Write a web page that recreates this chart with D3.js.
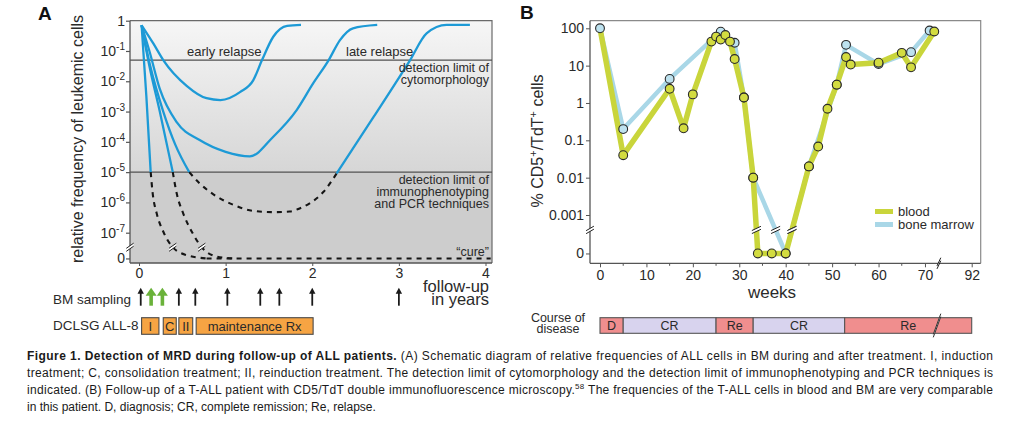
<!DOCTYPE html>
<html><head><meta charset="utf-8">
<script src="https://cdn.jsdelivr.net/npm/d3@7"></script>
<style>body{margin:0;background:#fff} svg{font-family:"Liberation Sans",Arial,Helvetica,sans-serif}</style>
</head><body>
<svg id="c" width="1023" height="422"></svg>
<script>
// ================= DATA =================
// Panel A (x: years of follow-up, y: log10 of relative frequency)
const aXTicks = [0, 1, 2, 3, 4];
const aYTicks = [0, -1, -2, -3, -4, -5, -6, -7];
const aZero = -7.85;            // "0" level below the axis break
const aBreak = -7.48;           // axis break level
const cytoLimit = -1.3;         // detection limit of cytomorphology
const pcrLimit = -5;            // detection limit of immunophenotyping/PCR
const solidCurves = [
  [[0.03,-0.15],[0.085,-2.5],[0.135,-5]],
  [[0.03,-0.15],[0.12,-1.5],[0.24,-3.0],[0.39,-5]],
  [[0.03,-0.15],[0.13,-1.5],[0.28,-3.0],[0.42,-4.1],[0.58,-5]],
  [[0.03,-0.15],[0.165,-0.75],[0.28,-1.3],[0.55,-2.15],[0.78,-2.56],[0.94,-2.62],[1.17,-2.35],[1.32,-1.96],[1.42,-1.3],[1.55,-0.53],[1.71,-0.17],[1.87,-0.14]],
  [[0.03,-0.15],[0.12,-1.0],[0.24,-2.25],[0.435,-3.35],[0.70,-3.94],[1.0,-4.33],[1.28,-4.48],[1.55,-3.83],[1.82,-2.95],[2.01,-2.07],[2.19,-1.3],[2.32,-0.64],[2.47,-0.25],[2.75,-0.14]],
  [[2.28,-5.05],[2.71,-3.17],[3.13,-1.3],[3.32,-0.42],[3.55,-0.14],[3.82,-0.14]]
];
const dashedCurves = [
  [[0.135,-5],[0.158,-5.7],[0.204,-6.36],[0.281,-6.97],[0.389,-7.48],[0.55,-7.74],[0.78,-7.85]],
  [[0.39,-5],[0.435,-5.7],[0.51,-6.36],[0.61,-6.97],[0.724,-7.48],[0.90,-7.79],[1.09,-7.85]],
  [[0.58,-5],[0.70,-5.37],[0.90,-5.81],[1.09,-6.08],[1.32,-6.28],[1.55,-6.32],[1.74,-6.30],[1.86,-6.19],[1.97,-6.03],[2.13,-5.65],[2.28,-5.05]],
  [[0.78,-7.85],[4.06,-7.85]]
];
const curveBreaks = [[0.389,-7.48],[0.724,-7.48]];
const bmSampling = [0.02, 0.46, 0.65, 1.02, 1.40, 1.62, 2.0, 3.0];
const bmSamplingGreen = [0.14, 0.27];
const treatments = [
  {name:"I", start:0.03, end:0.23},
  {name:"C", start:0.28, end:0.43},
  {name:"II", start:0.46, end:0.62},
  {name:"maintenance Rx", start:0.66, end:2.01}
];

// Panel B (x: weeks, y: % CD5+/TdT+ cells)
const bXTicks = [0, 10, 20, 30, 40, 50, 60, 70, 92];
const bXMinor = [5, 15, 25, 35, 45, 55, 65];
const bYTicks = [100, 10, 1, 0.1, 0.01, 0.001, 0];
const bYLabels = ["100", "10", "1", "0.1", "0.01", "0.001", "0"];
const bloodWeeks  = [0, 5, 15, 18, 20, 24, 25, 26, 27, 28, 29, 31, 33, 34, 37, 40, 45, 47, 49, 51, 53, 54, 60, 65, 67, 72];
const bloodValues = [100, 0.04, 2.4, 0.21, 1.7, 44, 60, 50, 66, 44, 15, 1.4, 0.01, 0, 0, 0, 0.02, 0.068, 0.7, 3.1, 17, 10.7, 12, 22, 9, 82];
const marrowWeeks  = [0, 5, 15, 26, 29, 31, 33, 40, 45, 51, 53, 60, 67, 71];
const marrowValues = [100, 0.2, 4.4, 81, 41, 1.4, 0.01, 0, 0.02, 3.1, 36, 11, 23, 87];
const course = [
  {label:"D", start:0, end:5, kind:"re"},
  {label:"CR", start:5, end:25, kind:"cr"},
  {label:"Re", start:25, end:33, kind:"re"},
  {label:"CR", start:33, end:52.7, kind:"cr"},
  {label:"Re", start:52.7, end:92, kind:"re"}
];
const weekBreak = 72.6;

// ================= DRAW =================
const svg = d3.select("#c");
const TXT = "#2a2a2a";

// ---------- Panel A ----------
const xA = d3.scaleLinear().domain([0, 4]).range([139, 485.5]);
const yA = d3.scaleLinear().domain([0, -7]).range([20.7, 232.7]);
const A = {left:130, right:492, top:20.7, bottom:263};

const defs = svg.append("defs");
const g = defs.append("linearGradient").attr("id","gA").attr("x1",0).attr("y1",0).attr("x2",0).attr("y2",1);
g.append("stop").attr("offset","0%").attr("stop-color","#f6f6f6");
g.append("stop").attr("offset","100%").attr("stop-color","#d6d6d6");

svg.append("rect").attr("x",A.left).attr("y",A.top).attr("width",A.right-A.left)
  .attr("height",yA(pcrLimit)-A.top).attr("fill","url(#gA)");
svg.append("rect").attr("x",A.left).attr("y",yA(pcrLimit)).attr("width",A.right-A.left)
  .attr("height",A.bottom-yA(pcrLimit)).attr("fill","#cdcdcd");

// frame
svg.append("path").attr("d",`M${A.left},${A.top}H${A.right}V${A.bottom}`).attr("fill","none").attr("stroke","#6a6a6a").attr("stroke-width",1.2);
[cytoLimit, pcrLimit].forEach(v=>{
  svg.append("line").attr("x1",A.left).attr("x2",A.right).attr("y1",yA(v)).attr("y2",yA(v))
    .attr("stroke","#505050").attr("stroke-width",1.3);
});

// curves
const lineA = d3.line().x(d=>xA(d[0])).y(d=>yA(d[1])).curve(d3.curveMonotoneX);
svg.append("g").selectAll("path").data(solidCurves).join("path")
  .attr("d",lineA).attr("fill","none").attr("stroke","#1d9ad6").attr("stroke-width",2.3);
svg.append("g").selectAll("path").data(dashedCurves).join("path")
  .attr("d",lineA).attr("fill","none").attr("stroke","#151515").attr("stroke-width",2.1)
  .attr("stroke-dasharray","5,5");

function breakMark(x, y, len, gap, angleDeg, color){
  const a = angleDeg*Math.PI/180, dx = Math.cos(a)*len/2, dy = -Math.sin(a)*len/2;
  const grp = svg.append("g");
  grp.append("path").attr("d",`M${x-dx},${y-dy-gap/2}L${x+dx},${y+dy-gap/2}L${x+dx},${y+dy+gap/2}L${x-dx},${y-dy+gap/2}Z`)
    .attr("fill","#fff").attr("stroke","none");
  [-gap/2, gap/2].forEach(o=>{
    grp.append("line").attr("x1",x-dx).attr("y1",y-dy+o).attr("x2",x+dx).attr("y2",y+dy+o)
      .attr("stroke",color).attr("stroke-width",1);
  });
}
curveBreaks.forEach(d=>breakMark(xA(d[0]), yA(d[1]), 9, 3, 35, "#222"));

// axes
svg.append("line").attr("x1",A.left).attr("x2",A.left).attr("y1",A.top).attr("y2",A.bottom).attr("stroke","#555").attr("stroke-width",1.3);
svg.append("line").attr("x1",A.left).attr("x2",A.right).attr("y1",A.bottom).attr("y2",A.bottom).attr("stroke","#555").attr("stroke-width",1.3);
const ayAxis = svg.append("g").attr("transform",`translate(${A.left},0)`)
  .call(d3.axisLeft(yA).tickValues([...aYTicks, aZero]).tickSize(4).tickSizeOuter(0).tickFormat(""));
ayAxis.select(".domain").remove();
ayAxis.selectAll(".tick line").attr("stroke","#555").attr("stroke-width",1.2);
breakMark(A.left, yA(aBreak), 9, 3, 35, "#222");

const yLab = svg.append("g").attr("fill",TXT).attr("font-size",14).attr("text-anchor","end");
aYTicks.forEach(e=>{
  const t = yLab.append("text").attr("x",A.left-5).attr("y",yA(e)+5);
  if (e === 0) t.text("1");
  else { t.append("tspan").text("10"); t.append("tspan").attr("font-size",10).attr("dy",-6).text("-"+(-e)); }
});
yLab.append("text").attr("x",A.left-5).attr("y",yA(aZero)+5).text("0");

const axAxis = svg.append("g").attr("transform",`translate(0,${A.bottom})`)
  .call(d3.axisBottom(xA).tickValues(aXTicks).tickSize(3).tickPadding(2).tickSizeOuter(0).tickFormat(d3.format("d")));
axAxis.select(".domain").remove();
axAxis.selectAll(".tick line").attr("stroke","#555");
axAxis.selectAll("text").attr("font-size",14).attr("fill",TXT).attr("font-family",null);

svg.append("text").attr("transform","translate(83,139) rotate(-90)").attr("text-anchor","middle")
  .attr("font-size",16).attr("fill",TXT).text("relative frequency of leukemic cells");
svg.append("text").attr("x",489).attr("y",292).attr("text-anchor","end").attr("font-size",16.5).attr("fill",TXT).text("follow-up");
svg.append("text").attr("x",489).attr("y",305).attr("text-anchor","end").attr("font-size",16.5).attr("fill",TXT).text("in years");
svg.append("text").attr("x",38).attr("y",20).attr("font-size",19).attr("font-weight","bold").attr("fill","#111").text("A");

// in-plot labels
const lab = svg.append("g").attr("font-size",13).attr("fill",TXT);
lab.append("text").attr("x",187).attr("y",56).text("early relapse");
lab.append("text").attr("x",346).attr("y",56).text("late relapse");
const rlab = svg.append("g").attr("font-size",12.5).attr("fill",TXT).attr("text-anchor","end");
[["detection limit of",72],["cytomorphology",84],["detection limit of",184],["immunophenotyping",196],["and PCR techniques",208],["\u201ccure\u201d",256]]
  .forEach(d=>rlab.append("text").attr("x",489).attr("y",d[1]).text(d[0]));

// sampling arrows
function arrow(x, green){
  const top = 287.7, bot = 305.7;
  const hw = green ? 5.5 : 3.2, hh = green ? 8 : 6;
  const col = green ? "#6ab23a" : "#1a1a1a";
  svg.append("line").attr("x1",x).attr("x2",x).attr("y1",top+hh-1).attr("y2",bot)
    .attr("stroke",col).attr("stroke-width",green?3.6:1.8);
  svg.append("path").attr("d",`M${x},${top}L${x+hw},${top+hh}L${x-hw},${top+hh}Z`).attr("fill",col);
}
bmSampling.forEach(t=>arrow(xA(t), false));
bmSamplingGreen.forEach(t=>arrow(xA(t), true));
svg.append("text").attr("x",53).attr("y",304).attr("font-size",13.5).attr("fill",TXT).text("BM sampling");
svg.append("text").attr("x",53).attr("y",330).attr("font-size",13.5).attr("fill",TXT).text("DCLSG ALL-8");

const tg = svg.append("g");
tg.selectAll("rect").data(treatments).join("rect")
  .attr("x",d=>xA(d.start)).attr("width",d=>xA(d.end)-xA(d.start)).attr("y",317.7).attr("height",16.6)
  .attr("fill","#f6a443").attr("stroke","#4a4a4a").attr("stroke-width",1.1);
tg.selectAll("text").data(treatments).join("text")
  .attr("x",d=>(xA(d.start)+xA(d.end))/2).attr("y",331).attr("text-anchor","middle")
  .attr("font-size",13).attr("fill",TXT).text(d=>d.name);

// ---------- Panel B ----------
const xB = d3.scaleLinear().domain([0, 73, 92]).range([600, 938.9, 971.7]);
const yB = d3.scaleLinear().domain([2, -3]).range([28.3, 215]);
const bZero = -4.03, bBreak = -3.4;
const ev = v => v === 0 ? bZero : Math.log10(v);
const B = {left:590, right:980.7, top:20.7, bottom:263.3};

svg.append("path").attr("d",`M${B.left},${B.top}H${B.right}V${B.bottom}`).attr("fill","none").attr("stroke","#8a8a8a").attr("stroke-width",1.2);
svg.append("line").attr("x1",B.left).attr("x2",B.left).attr("y1",B.top).attr("y2",B.bottom).attr("stroke","#555").attr("stroke-width",1.3);
svg.append("line").attr("x1",B.left).attr("x2",B.right).attr("y1",B.bottom).attr("y2",B.bottom).attr("stroke","#555").attr("stroke-width",1.3);

const byAxis = svg.append("g").attr("transform",`translate(${B.left},0)`)
  .call(d3.axisLeft(yB).tickValues(bYTicks.map(ev)).tickSize(4).tickPadding(2).tickSizeOuter(0)
    .tickFormat((d,i)=>bYLabels[i]));
byAxis.select(".domain").remove();
byAxis.selectAll(".tick line").attr("stroke","#555");
byAxis.selectAll("text").attr("font-size",14).attr("fill",TXT).attr("font-family",null);

const bxAxis = svg.append("g").attr("transform",`translate(0,${B.bottom})`)
  .call(d3.axisBottom(xB).tickValues(bXTicks).tickSize(4).tickPadding(3).tickSizeOuter(0).tickFormat(d3.format("d")));
bxAxis.select(".domain").remove();
bxAxis.selectAll(".tick line").attr("stroke","#555");
bxAxis.selectAll("text").attr("font-size",14).attr("fill",TXT).attr("font-family",null);
svg.append("g").selectAll("line").data(bXMinor).join("line")
  .attr("x1",d=>xB(d)).attr("x2",d=>xB(d)).attr("y1",B.bottom).attr("y2",B.bottom+2.5).attr("stroke","#555");

breakMark(B.left, yB(bBreak), 9, 3, 30, "#222");
breakMark(xB(73), B.bottom, 9, 3, 65, "#222");

const blood = bloodWeeks.map((w,i)=>({w, e:ev(bloodValues[i])}));
const marrow = marrowWeeks.map((w,i)=>({w, e:ev(marrowValues[i])}));
const lineB = d3.line().x(d=>xB(d.w)).y(d=>yB(d.e));

svg.append("path").attr("d",lineB(marrow)).attr("fill","none").attr("stroke","#a9d7e7").attr("stroke-width",4.5).attr("stroke-linejoin","round");
svg.append("path").attr("d",lineB(blood)).attr("fill","none").attr("stroke","#c9d53b").attr("stroke-width",5.5).attr("stroke-linejoin","round");

// break marks where a series crosses the axis break
function crossings(series){
  const out = [];
  for (let i=1;i<series.length;i++){
    const a = series[i-1], b = series[i];
    if ((a.e - bBreak)*(b.e - bBreak) < 0){
      const f = (bBreak - a.e)/(b.e - a.e);
      out.push({w: a.w + f*(b.w-a.w)});
    }
  }
  return out;
}
[...crossings(blood), ...crossings(marrow)].forEach(c=>breakMark(xB(c.w), yB(bBreak), 10, 3, 25, "#222"));

svg.append("g").selectAll("circle").data(marrow).join("circle")
  .attr("cx",d=>xB(d.w)).attr("cy",d=>yB(d.e)).attr("r",4.4)
  .attr("fill","#bde2ef").attr("stroke","#2a2a2a").attr("stroke-width",1.1);
svg.append("g").selectAll("circle").data(blood.filter(d=>d.w !== 0)).join("circle")
  .attr("cx",d=>xB(d.w)).attr("cy",d=>yB(d.e)).attr("r",4.4)
  .attr("fill","#d3dc40").attr("stroke","#2a2a2a").attr("stroke-width",1.1);

// legend
svg.append("line").attr("x1",875).attr("x2",893).attr("y1",211.5).attr("y2",211.5).attr("stroke","#c9d53b").attr("stroke-width",5);
svg.append("line").attr("x1",875).attr("x2",893).attr("y1",224.5).attr("y2",224.5).attr("stroke","#a9d7e7").attr("stroke-width",5);
svg.append("text").attr("x",898).attr("y",216).attr("font-size",13).attr("fill",TXT).text("blood");
svg.append("text").attr("x",898).attr("y",229).attr("font-size",13).attr("fill",TXT).text("bone marrow");

// axis titles
const ylB = svg.append("text").attr("transform","translate(543,141) rotate(-90)").attr("text-anchor","middle")
  .attr("font-size",16).attr("fill",TXT);
ylB.append("tspan").text("% CD5");
ylB.append("tspan").attr("font-size",11).attr("dy",-6).text("+");
ylB.append("tspan").attr("dy",6).text("/TdT");
ylB.append("tspan").attr("font-size",11).attr("dy",-6).text("+");
ylB.append("tspan").attr("dy",6).text(" cells");
svg.append("text").attr("x",772).attr("y",298).attr("text-anchor","middle").attr("font-size",17).attr("fill",TXT).text("weeks");
svg.append("text").attr("x",520).attr("y",19).attr("font-size",19).attr("font-weight","bold").attr("fill","#111").text("B");

// course of disease
const cg = svg.append("g");
cg.selectAll("rect").data(course).join("rect")
  .attr("x",d=>xB(d.start)).attr("width",d=>xB(d.end)-xB(d.start)).attr("y",317.7).attr("height",15.6)
  .attr("fill",d=>d.kind==="re"?"#f08e8e":"#d8d3ee").attr("stroke","#555").attr("stroke-width",1.1);
cg.selectAll("text").data(course).join("text")
  .attr("x",d=>(xB(d.start)+xB(d.end))/2).attr("y",330).attr("text-anchor","middle")
  .attr("font-size",12.5).attr("fill",TXT).text(d=>d.label);
breakMark(xB(weekBreak), 325.5, 22, 3, 70, "#333");
svg.append("text").attr("x",558).attr("y",322).attr("text-anchor","middle").attr("font-size",12.5).attr("fill",TXT).text("Course of");
svg.append("text").attr("x",558).attr("y",333).attr("text-anchor","middle").attr("font-size",12.5).attr("fill",TXT).text("disease");

// ---------- Caption ----------
const cap = svg.append("g").attr("font-size",12).attr("fill","#1a1a1a");
const l1 = cap.append("text").attr("x",27).attr("y",360).attr("textLength",966).attr("lengthAdjust","spacing");
l1.append("tspan").attr("font-weight","bold").text("Figure 1. Detection of MRD during follow-up of ALL patients.");
l1.append("tspan").text(" (A) Schematic diagram of relative frequencies of ALL cells in BM during and after treatment. I, induction");
cap.append("text").attr("x",27).attr("y",377).attr("textLength",966).attr("lengthAdjust","spacing")
  .text("treatment; C, consolidation treatment; II, reinduction treatment. The detection limit of cytomorphology and the detection limit of immunophenotyping and PCR techniques is");
const l3 = cap.append("text").attr("x",27).attr("y",394).attr("textLength",966).attr("lengthAdjust","spacing");
l3.append("tspan").text("indicated. (B) Follow-up of a T-ALL patient with CD5/TdT double immunofluorescence microscopy.");
l3.append("tspan").attr("font-size",8).attr("dy",-5).text("58");
l3.append("tspan").attr("dy",5).text(" The frequencies of the T-ALL cells in blood and BM are very comparable");
cap.append("text").attr("x",27).attr("y",411).text("in this patient. D, diagnosis; CR, complete remission; Re, relapse.");
</script>
</body></html>
